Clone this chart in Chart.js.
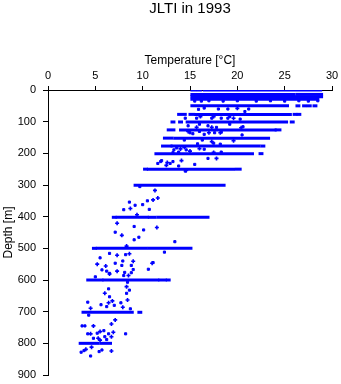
<!DOCTYPE html>
<html>
<head>
<meta charset="utf-8">
<script src="https://cdn.jsdelivr.net/npm/chart.js@4.4.1/dist/chart.umd.min.js"></script>
<style>
  html, body { margin: 0; padding: 0; background: #fff; }
  #wrap { width: 341px; height: 384px; }
</style>
</head>
<body>
<div id="wrap"><canvas id="profile"></canvas></div>
<script>
// --- DATA ---
const chartTitle = 'JLTI in 1993';
const xTicks = [0, 5, 10, 15, 20, 25, 30];
const yTicks = [0, 100, 200, 300, 400, 500, 600, 700, 800, 900];

// dense casts: each row is one horizontal run of readings (depth, from temp, to temp)
const runDepth = [0, 0, 0, 14, 14, 21, 29, 50, 50, 50, 50, 50,
    77, 77, 77, 77, 77, 77, 101, 101, 101, 101, 126, 126, 126,
    152, 152, 177, 177, 177, 201, 201, 250, 250, 250, 301,
    402, 402, 402, 402, 500, 500, 500, 600, 600, 600, 600, 702, 702, 800, 800, 800];
const runFrom = [15.2, 15.8, 16.5, 15.2, 26.3, 15.2, 15.2, 15.2, 26.3, 27.0, 27.5, 28.1,
    13.8, 14.3, 15.0, 15.6, 26.0, 26.4, 13.1, 13.9, 14.7, 25.7, 12.7, 14.0, 24.1,
    12.3, 13.4, 12.1, 13.1, 22.6, 11.4, 22.4, 10.2, 10.6, 19.9, 9.2,
    6.9, 7.3, 10.7, 11.6, 4.8, 5.2, 10.7, 4.2, 5.9, 11.8, 12.6, 3.7, 9.6, 3.4, 4.8, 5.6];
const runTo = [15.5, 16.1, 28.8, 26.0, 28.9, 28.9, 28.5, 25.3, 26.5, 27.2, 27.7, 28.3,
    14.0, 14.5, 15.4, 25.6, 26.2, 26.6, 13.3, 14.1, 25.2, 25.9, 13.3, 24.0, 24.5,
    13.1, 23.3, 13.0, 22.3, 22.8, 21.6, 22.6, 10.4, 19.6, 20.3, 18.6,
    7.1, 10.5, 11.3, 16.9, 5.0, 10.4, 15.1, 5.7, 11.6, 12.4, 12.8, 8.9, 9.8, 4.5, 5.3, 6.6];

// single readings drawn as small squares
const sqTemp = [15.5, 16.2, 17.0, 18.5, 20.0, 22.0, 23.5, 25.0, 26.5, 27.5, 28.5,
    15.9, 18.0, 19.0, 21.2, 20.8, 16.5,
    14.5, 15.7, 17.3, 18.3, 19.0, 19.2, 20.3,
    14.8, 16.9, 17.8, 20.6, 19.2, 16.0,
    15.0, 17.6, 18.3, 15.3, 16.5, 20.5, 16.0,
    14.4, 16.3, 17.5, 15.8, 18.2,
    13.6, 14.6, 13.3, 16.5, 13.8, 13.2, 18.3,
    16.9, 12.0, 11.6, 13.2, 12.9, 15.5, 13.8, 11.9, 14.5,
    8.6, 9.2, 8.0, 10.0, 10.5, 10.7, 9.7,
    9.1, 10.1, 7.1, 9.6, 9.1, 13.4,
    12.3, 6.5, 8.2, 5.5, 7.9, 7.1, 7.8, 8.8, 5.7, 6.2, 9.0, 10.6, 6.5, 8.1, 8.8, 8.0, 11.1, 5.0,
    8.4, 6.4, 8.6, 6.5, 8.3, 4.2, 5.6, 7.0, 7.7, 8.7, 6.2,
    4.3, 3.6, 3.9, 5.9, 4.2, 5.2, 6.4, 8.2, 4.8, 6.0, 3.8, 5.4, 5.7, 3.5, 4.5, 6.2];
const sqDepth = [35, 35, 34, 35, 34, 35, 34, 35, 34, 35, 34,
    61, 60, 60, 60, 68, 57,
    89, 89, 89, 89, 89, 84, 92,
    113, 113, 118, 116, 108, 108,
    135, 135, 133, 138, 140, 142, 131,
    158, 158, 168, 170, 171,
    183, 189, 189, 187, 196, 198, 196,
    216, 223, 232, 226, 232, 235, 240, 226, 256,
    354, 364, 378, 362, 350, 377, 305,
    431, 442, 449, 465, 473, 479,
    512, 516, 520, 530, 540, 547, 554, 554, 568, 572, 567, 566, 579, 576, 577, 586, 545, 590,
    607, 628, 632, 653, 642, 670, 678, 680, 672, 691, 684,
    711, 745, 745, 760, 770, 768, 770, 770, 784, 779, 823, 826, 821, 828, 840, 788];

// single readings drawn as plus marks
const crTemp = [20.0, 16.1, 17.5, 19.6, 15.7, 17.3, 20.4, 17.0, 18.2, 14.8, 17.3,
    19.6, 14.0, 15.0, 14.4, 16.0, 17.5, 17.8, 12.6, 14.1, 12.5, 14.6,
    11.3, 8.7, 11.1, 11.6, 9.4, 7.3, 11.5, 7.8, 8.3,
    8.6, 7.3, 9.0, 5.2, 6.1, 11.0, 7.3, 6.5, 8.5,
    8.3, 6.0, 6.8, 6.4, 8.4, 7.9, 4.5,
    7.1, 4.8, 6.7, 4.5, 5.5, 6.9, 5.3, 6.7, 4.6, 4.0, 6.7, 5.5];
const crDepth = [58, 84, 84, 89, 118, 118, 119, 135, 135, 131, 163,
    160, 186, 193, 181, 185, 197, 216, 229, 223, 238, 254,
    317, 374, 347, 341, 394, 421, 434, 459, 493,
    517, 522, 541, 550, 556, 547, 572, 581, 586,
    621, 642, 666, 672, 663, 686, 689,
    726, 745, 739, 770, 763, 765, 784, 779, 812, 819, 824, 790];

// --- CHART ---
const BLUE = '#0000ff';
const datasets = [];

for (let i = 0; i < runDepth.length; i++) {
    datasets.push({
        data: [{ x: runFrom[i], y: runDepth[i] }, { x: runTo[i], y: runDepth[i] }],
        showLine: true,
        borderColor: BLUE,
        borderWidth: 3,
        borderCapStyle: 'square',
        pointRadius: 0
    });
}

datasets.push({
    data: sqTemp.map((t, i) => ({ x: t, y: sqDepth[i] })),
    pointStyle: 'rect',
    pointRadius: 1.5,
    pointBorderWidth: 1,
    backgroundColor: BLUE,
    borderColor: BLUE
});

datasets.push({
    data: crTemp.map((t, i) => ({ x: t, y: crDepth[i] })),
    pointStyle: 'cross',
    pointRadius: 2,
    pointBorderWidth: 1.6,
    backgroundColor: BLUE,
    borderColor: BLUE
});

const tickFont = { family: 'Liberation Sans', size: 11 };
const labelFont = { family: 'Liberation Sans', size: 12 };

new Chart(document.getElementById('profile'), {
    type: 'scatter',
    data: { datasets: datasets },
    options: {
        responsive: true,
        maintainAspectRatio: false,
        animation: false,
        layout: { padding: { left: 0, right: 9, top: 0, bottom: 9 } },
        plugins: {
            legend: { display: false },
            tooltip: { enabled: false },
            title: {
                display: true,
                text: chartTitle,
                fullSize: false,
                color: '#000',
                font: { family: 'Liberation Sans', size: 15, weight: 'normal' },
                padding: { top: 0, bottom: 0 }
            }
        },
        scales: {
            x: {
                type: 'linear',
                position: 'top',
                min: 0,
                max: 30,
                afterBuildTicks: s => { s.ticks = xTicks.map(v => ({ value: v })); },
                afterFit: s => { s.height = 72; s.paddingLeft = 0; s.paddingRight = 0; },
                ticks: { color: '#000', font: tickFont, padding: 3, maxRotation: 0 },
                grid: { drawOnChartArea: false, drawTicks: true, tickLength: 4, tickColor: '#000' },
                border: { display: true, color: '#000', width: 1 },
                title: { display: true, text: 'Temperature [°C]', color: '#000', font: labelFont, padding: { top: 35, bottom: 0 } }
            },
            y: {
                type: 'linear',
                reverse: true,
                min: 0,
                max: 900,
                afterBuildTicks: s => { s.ticks = yTicks.map(v => ({ value: v })); },
                afterFit: s => { s.width = 48; s.paddingTop = 0; s.paddingBottom = 0; },
                ticks: { color: '#000', font: tickFont, padding: 7 },
                grid: { drawOnChartArea: false, drawTicks: true, tickLength: 5, tickColor: '#000' },
                border: { display: true, color: '#000', width: 1 },
                title: { display: true, text: 'Depth [m]', color: '#000', font: labelFont, padding: { top: 1, bottom: 0 } }
            }
        }
    }
});
</script>
</body>
</html>
